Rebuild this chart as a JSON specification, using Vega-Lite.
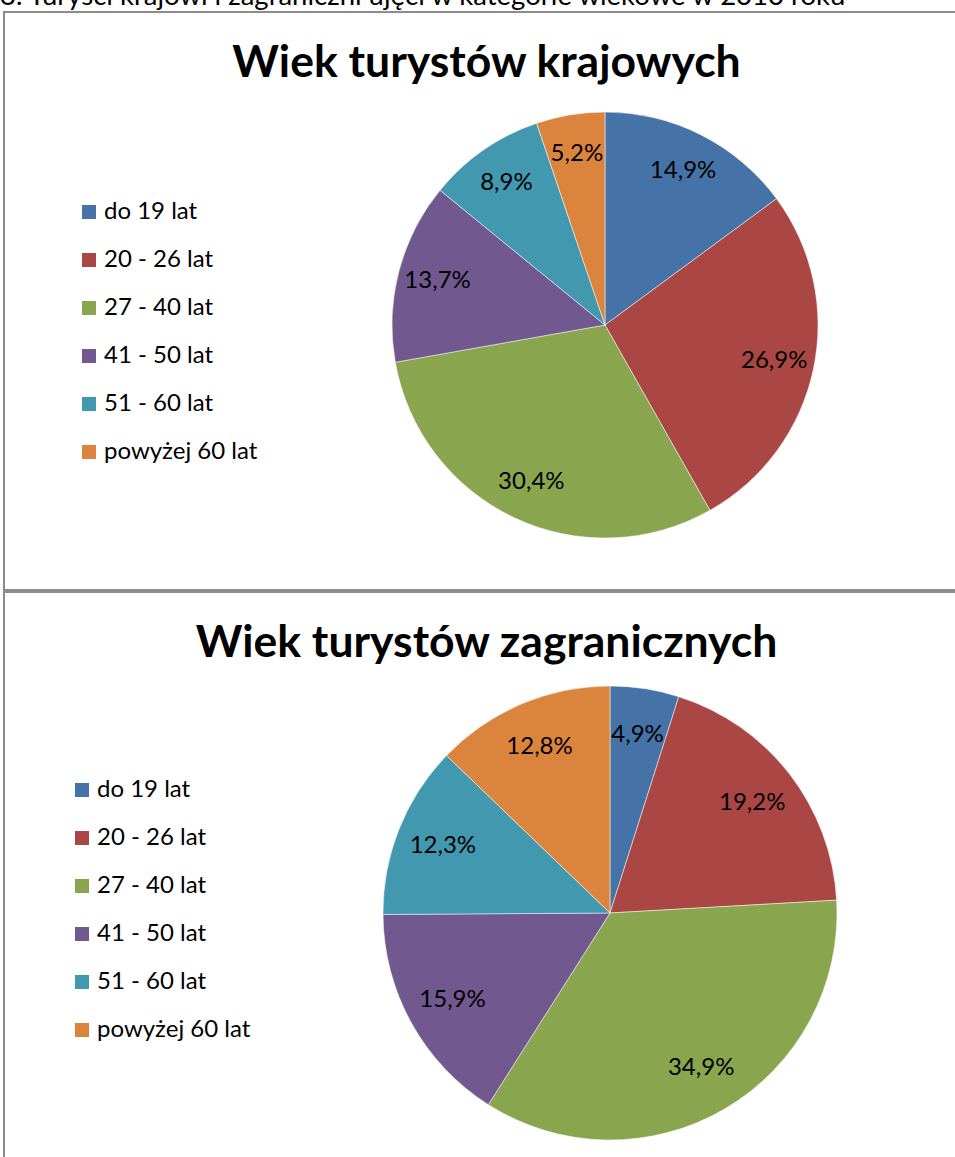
{
  "$schema": "https://vega.github.io/schema/vega-lite/v6.json",
  "background": "white",
  "padding": {"left": 0, "top": -18, "right": 0, "bottom": 0},
  "title": {"text": "3. Turyści krajowi i zagraniczni ujęci w kategorie wiekowe w 2010 roku", "anchor": "start", "fontSize": 27.5, "font": "Lato", "fontWeight": "normal", "color": "#000000", "dx": -3, "offset": 1},
  "spacing": 0,
  "datasets": {
    "krajowi": [
      {"group": "do 19 lat", "ord": 1, "value": 14.9, "label": "14,9%"},
      {"group": "20 - 26 lat", "ord": 2, "value": 26.9, "label": "26,9%"},
      {"group": "27 - 40 lat", "ord": 3, "value": 30.4, "label": "30,4%"},
      {"group": "41 - 50 lat", "ord": 4, "value": 13.7, "label": "13,7%"},
      {"group": "51 - 60 lat", "ord": 5, "value": 8.9, "label": "8,9%"},
      {"group": "powyżej 60 lat", "ord": 6, "value": 5.2, "label": "5,2%"}
    ],
    "zagraniczni": [
      {"group": "do 19 lat", "ord": 1, "value": 4.9, "label": "4,9%"},
      {"group": "20 - 26 lat", "ord": 2, "value": 19.2, "label": "19,2%"},
      {"group": "27 - 40 lat", "ord": 3, "value": 34.9, "label": "34,9%"},
      {"group": "41 - 50 lat", "ord": 4, "value": 15.9, "label": "15,9%"},
      {"group": "51 - 60 lat", "ord": 5, "value": 12.3, "label": "12,3%"},
      {"group": "powyżej 60 lat", "ord": 6, "value": 12.8, "label": "12,8%"}
    ]
  },
  "vconcat": [
    {
      "width": 965,
      "height": 578,
      "view": {"stroke": "#8c8c8c", "strokeWidth": 2, "fill": "#ffffff"},
      "title": {"text": "Wiek turystów krajowych", "fontSize": 44.5, "font": "Lato", "fontWeight": "bold", "color": "#000000", "anchor": "middle", "baseline": "alphabetic", "frame": "group", "offset": -109},
      "data": {"name": "krajowi"},
      "layer": [
        {
          "mark": {"type": "arc", "x": 601, "y": 313, "outerRadius": 213, "stroke": "#ffffff", "strokeWidth": 0.5},
          "encoding": {
            "theta": {"field": "value", "type": "quantitative", "stack": true},
            "order": {"field": "ord", "type": "quantitative"},
            "color": {
              "field": "group", "type": "nominal",
              "scale": {"domain": ["do 19 lat", "20 - 26 lat", "27 - 40 lat", "41 - 50 lat", "51 - 60 lat", "powyżej 60 lat"], "range": ["#4572A7", "#AA4643", "#89A54E", "#71588F", "#4198AF", "#DB843D"]},
              "legend": {"orient": "none", "legendX": 73, "legendY": 188, "title": null, "labelFontSize": 24, "labelFont": "Lato", "labelColor": "#000000", "symbolType": "square", "symbolSize": 196, "symbolStrokeWidth": 0, "rowPadding": 24, "labelOffset": 3, "labelLimit": 300}
            }
          }
        },
        {
          "mark": {"type": "text", "x": 601, "y": 313, "radius": 173, "fontSize": 24, "font": "Lato", "color": "#000000"},
          "encoding": {
            "theta": {"field": "value", "type": "quantitative", "stack": true},
            "order": {"field": "ord", "type": "quantitative"},
            "text": {"field": "label", "type": "nominal"}
          }
        }
      ]
    },
    {
      "width": 965,
      "height": 578,
      "view": {"stroke": "#8c8c8c", "strokeWidth": 2, "fill": "#ffffff"},
      "title": {"text": "Wiek turystów zagranicznych", "fontSize": 44.5, "font": "Lato", "fontWeight": "bold", "color": "#000000", "anchor": "middle", "baseline": "alphabetic", "frame": "group", "offset": -109},
      "data": {"name": "zagraniczni"},
      "layer": [
        {
          "mark": {"type": "arc", "x": 606, "y": 321, "outerRadius": 227, "stroke": "#ffffff", "strokeWidth": 0.5},
          "encoding": {
            "theta": {"field": "value", "type": "quantitative", "stack": true},
            "order": {"field": "ord", "type": "quantitative"},
            "color": {
              "field": "group", "type": "nominal",
              "scale": {"domain": ["do 19 lat", "20 - 26 lat", "27 - 40 lat", "41 - 50 lat", "51 - 60 lat", "powyżej 60 lat"], "range": ["#4572A7", "#AA4643", "#89A54E", "#71588F", "#4198AF", "#DB843D"]},
              "legend": {"orient": "none", "legendX": 66, "legendY": 186, "title": null, "labelFontSize": 24, "labelFont": "Lato", "labelColor": "#000000", "symbolType": "square", "symbolSize": 196, "symbolStrokeWidth": 0, "rowPadding": 24, "labelOffset": 3, "labelLimit": 300}
            }
          }
        },
        {
          "mark": {"type": "text", "x": 606, "y": 321, "radius": 180, "fontSize": 24, "font": "Lato", "color": "#000000"},
          "encoding": {
            "theta": {"field": "value", "type": "quantitative", "stack": true},
            "order": {"field": "ord", "type": "quantitative"},
            "text": {"field": "label", "type": "nominal"}
          }
        }
      ]
    }
  ],
  "resolve": {"scale": {"color": "independent"}, "legend": {"color": "independent"}},
  "config": {"view": {"stroke": "#8c8c8c", "strokeWidth": 2}, "font": "Lato"}
}
